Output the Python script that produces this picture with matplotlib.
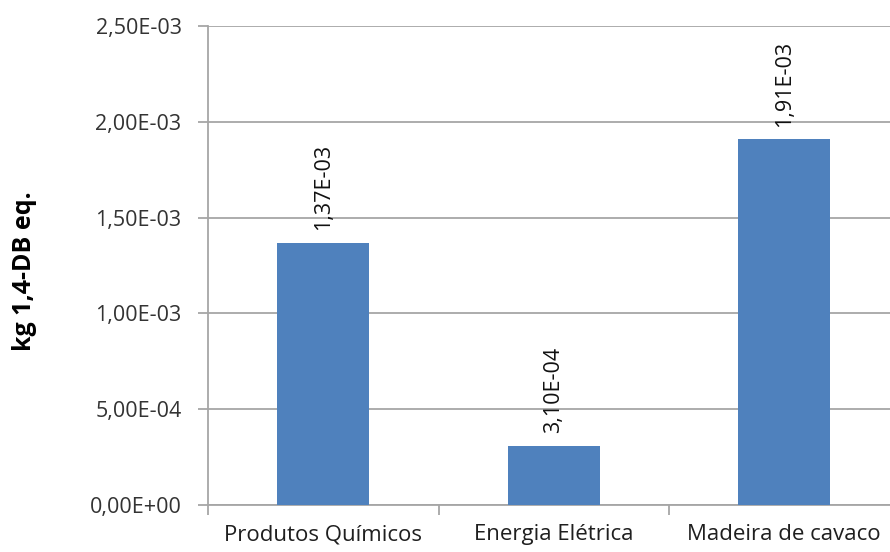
import matplotlib
matplotlib.use("Agg")
import matplotlib.pyplot as plt
from matplotlib.ticker import FuncFormatter, FixedLocator

categories = ["Produtos Químicos", "Energia Elétrica", "Madeira de cavaco"]
values = [1.37e-03, 3.10e-04, 1.91e-03]
value_labels = ["1,37E-03", "3,10E-04", "1,91E-03"]
y_ticks = [0.0, 5e-04, 1e-03, 1.5e-03, 2e-03, 2.5e-03]
y_label = "kg 1,4-DB eq."

plt.rcParams["font.family"] = ["Open Sans", "DejaVu Sans"]

fig = plt.figure(figsize=(8.9, 5.52), dpi=100)
W, H = 890, 552
left, right, top, bottom = 208, 899.5, 26, 505
ax = fig.add_axes([left / W, 1 - bottom / H, (right - left) / W, (bottom - top) / H])

grid_c = "#A6A6A6"
x = list(range(len(categories)))
ax.bar(x, values, width=0.4, color="#4F81BD", zorder=3)

ax.set_xlim(-0.5, len(categories) - 0.5)
ax.set_ylim(0, 2.5e-03)
ax.set_yticks(y_ticks)
ax.yaxis.set_major_formatter(FuncFormatter(
    lambda v, p: f"{v:.2E}".replace(".", ",")))
ax.yaxis.grid(True, color=grid_c, linewidth=1.3, zorder=0)

ax.set_xticks(x)
ax.set_xticklabels(categories)
ax.xaxis.set_minor_locator(FixedLocator([i - 0.5 for i in range(len(categories) + 1)]))
ax.tick_params(axis="x", which="major", length=0, pad=14, labelsize=16, labelcolor="#1f1f1f")
ax.tick_params(axis="x", which="minor", length=7, width=1.3, color=grid_c)
ax.tick_params(axis="y", length=7, width=1.3, color=grid_c, pad=12, labelsize=15.5, labelcolor="#333333")

for s in ["top", "right"]:
    ax.spines[s].set_visible(False)
for s in ["left", "bottom"]:
    ax.spines[s].set_color(grid_c)
    ax.spines[s].set_linewidth(1.3)

for xi, v, lab in zip(x, values, value_labels):
    ax.annotate(lab, (xi, v), xytext=(0, 9), textcoords="offset points",
                rotation=90, ha="center", va="bottom", fontsize=15.5, color="#111111")

fig.text(25 / W, 1 - 271 / H, y_label, rotation=90, ha="center", va="center",
         fontsize=18, fontweight="bold", color="#000000")

fig.savefig("out.png", dpi=100)
